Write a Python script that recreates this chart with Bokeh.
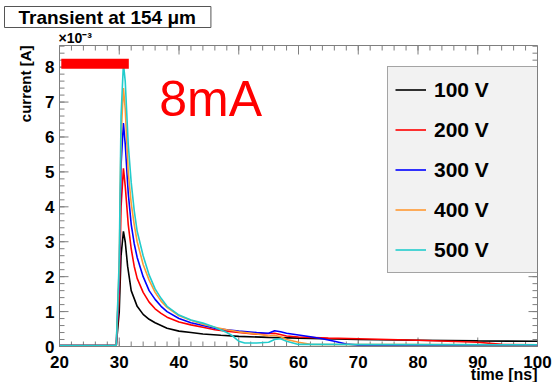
from bokeh.plotting import figure
from bokeh.models import Label, Legend, LegendItem, FixedTicker, Range1d, Title
from bokeh.embed import file_html
from bokeh.resources import INLINE

# ---- data (current in units of 1e-3 A, time in ns) ----
labels = ["100 V", "200 V", "300 V", "400 V", "500 V"]
colors = ["#000000", "#ff0000", "#0000ff", "#ff9933", "#22cccc"]

t_100 = [20, 29.5, 30.0, 30.3, 30.7, 31.0, 31.4, 32, 33, 34, 35, 36, 38, 40, 42, 44, 47, 50, 55, 60, 70, 80, 90, 100]
i_100 = [0.03, 0.03, 1.0, 2.6, 3.3, 3.0, 2.3, 1.6, 1.15, 0.92, 0.78, 0.68, 0.52, 0.44, 0.40, 0.36, 0.32, 0.29, 0.26, 0.24, 0.20, 0.18, 0.16, 0.15]

t_200 = [20, 29.5, 30.0, 30.3, 30.7, 31.0, 31.5, 32, 32.5, 33, 34, 35, 36, 37, 38, 40, 42, 44, 46, 48, 50, 53, 56, 58, 60, 65, 70, 80, 90, 94, 100]
i_200 = [0.03, 0.03, 1.5, 4.0, 5.1, 4.6, 3.5, 2.8, 2.3, 1.95, 1.55, 1.27, 1.08, 0.95, 0.84, 0.70, 0.62, 0.55, 0.48, 0.44, 0.40, 0.35, 0.38, 0.30, 0.27, 0.24, 0.22, 0.18, 0.12, 0.06, 0.05]

t_300 = [20, 29.5, 30.0, 30.3, 30.7, 31.0, 31.5, 32, 32.5, 33, 34, 35, 36, 37, 38, 40, 42, 44, 46, 48, 50, 53, 55, 56, 57, 58, 60, 62, 64, 66, 68, 70, 100]
i_300 = [0.03, 0.03, 2.0, 5.2, 6.4, 5.8, 4.4, 3.5, 2.95, 2.55, 2.0, 1.6, 1.35, 1.15, 1.0, 0.80, 0.68, 0.60, 0.52, 0.48, 0.44, 0.40, 0.38, 0.45, 0.42, 0.38, 0.33, 0.28, 0.22, 0.15, 0.07, 0.04, 0.04]

t_400 = [20, 29.5, 30.0, 30.3, 30.7, 31.0, 31.5, 32, 32.5, 33, 34, 35, 36, 37, 38, 40, 42, 44, 46, 48, 50, 53, 55, 56, 57, 58, 60, 62, 100]
i_400 = [0.03, 0.03, 2.3, 6.0, 7.4, 6.8, 5.0, 4.1, 3.5, 3.0, 2.35, 1.9, 1.55, 1.3, 1.12, 0.88, 0.75, 0.64, 0.55, 0.48, 0.42, 0.36, 0.30, 0.32, 0.28, 0.20, 0.12, 0.06, 0.05]

t_500 = [20, 29.5, 30.0, 30.3, 30.7, 31.0, 31.5, 32, 32.5, 33, 34, 35, 36, 37, 38, 40, 42, 44, 46, 48, 49, 50, 51, 53, 55, 56, 57, 58, 60, 100]
i_500 = [0.03, 0.03, 2.5, 6.6, 8.1, 7.6, 5.8, 4.7, 3.9, 3.3, 2.6, 2.05, 1.65, 1.38, 1.15, 0.90, 0.76, 0.67, 0.55, 0.40, 0.30, 0.15, 0.10, 0.10, 0.12, 0.20, 0.22, 0.15, 0.06, 0.05]

series_t = [t_100, t_200, t_300, t_400, t_500]
series_i = [i_100, i_200, i_300, i_400, i_500]

bar_t = [20.3, 31.6]
bar_i = [8.1, 8.1]

x_ticks = [20, 30, 40, 50, 60, 70, 80, 90, 100]
x_minor = [20 + 2 * k for k in range(41)]
y_ticks = [0, 1, 2, 3, 4, 5, 6, 7, 8]
y_minor = [round(0.2 * k, 1) for k in range(44)]

X0, X1 = 20, 100
Y0, Y1 = 0, 8.62

FONT = "Liberation Sans"
AX = "#7f7f7f"

p = figure(width=553, height=382, output_backend="svg", toolbar_location=None,
           x_range=Range1d(X0, X1), y_range=Range1d(Y0, Y1),
           min_border_left=59, min_border_right=16, min_border_top=45, min_border_bottom=36)
p.grid.visible = False
p.outline_line_color = AX
p.background_fill_color = "white"
p.border_fill_color = "white"

for ax in (p.xaxis[0], p.yaxis[0]):
    ax.axis_line_color = AX
    ax.major_tick_line_color = None
    ax.minor_tick_line_color = None
    ax.major_tick_in = 0
    ax.major_tick_out = 0
    ax.minor_tick_in = 0
    ax.minor_tick_out = 0
    ax.major_label_text_font = FONT
    ax.major_label_text_font_style = "bold"
    ax.major_label_text_font_size = "17px"
    ax.major_label_text_color = "black"
p.xaxis.ticker = FixedTicker(ticks=x_ticks)
p.yaxis.ticker = FixedTicker(ticks=y_ticks)
p.xaxis.major_label_standoff = 9
p.yaxis.major_label_standoff = 5

# inner ticks on all four sides (pixel lengths converted to data units)
px_x = (X1 - X0) / 478.0
px_y = (Y1 - Y0) / 301.0
for ticks, ln in ((x_ticks, 9), (x_minor, 5)):
    p.segment(x0=ticks, y0=[Y0] * len(ticks), x1=ticks, y1=[Y0 + ln * px_y] * len(ticks),
              line_color=AX, line_width=1)
    p.segment(x0=ticks, y0=[Y1] * len(ticks), x1=ticks, y1=[Y1 - ln * px_y] * len(ticks),
              line_color=AX, line_width=1)
for ticks, ln in ((y_ticks, 9), (y_minor, 5)):
    p.segment(x0=[X0] * len(ticks), y0=ticks, x1=[X0 + ln * px_x] * len(ticks), y1=ticks,
              line_color=AX, line_width=1)
    p.segment(x0=[X1] * len(ticks), y0=ticks, x1=[X1 - ln * px_x] * len(ticks), y1=ticks,
              line_color=AX, line_width=1)

renderers = []
for t, v, c in zip(series_t, series_i, colors):
    r = p.line(t, v, line_color=c, line_width=1.6)
    renderers.append(r)

p.line(bar_t, bar_i, line_color="#ff0000", line_width=10)

legend = Legend(items=[LegendItem(label=l, renderers=[r]) for l, r in zip(labels, renderers)],
                location=(328, 73))
legend.background_fill_color = "#f2f2f2"
legend.background_fill_alpha = 1
legend.border_line_color = "#555555"
legend.border_line_width = 1
legend.padding = 7
legend.margin = 0
legend.spacing = 9
legend.glyph_height = 31
legend.label_height = 31
legend.glyph_width = 31
legend.label_standoff = 8
legend.label_width = 97
legend.label_text_font = FONT
legend.label_text_font_style = "bold"
legend.label_text_font_size = "21px"
legend.label_text_color = "black"
p.add_layout(legend)

# titles in the side panels (not clipped by the frame)
p.add_layout(Title(text="\u00d710\u207b\u00b3", align="left", offset=-1, standoff=0,
                   text_color="black",
                   text_font=FONT, text_font_style="bold", text_font_size="14px"), "above")
p.add_layout(Title(text="Transient at 154 \u03bcm", align="left", offset=-55, standoff=0,
                   text_color="black", padding=dict(left=14, right=15, top=0, bottom=0),
                   text_font=FONT, text_font_style="bold", text_font_size="19px",
                   background_fill_color="white", border_line_color="#555555"), "above")
p.add_layout(Title(text="current [A]", align="right", standoff=18,
                   text_color="black",
                   text_font=FONT, text_font_style="bold", text_font_size="15px"), "left")
p.add_layout(Title(text="time [ns]", align="right", standoff=-13,
                   text_color="black",
                   text_font=FONT, text_font_style="bold", text_font_size="16px"), "below")

# 8mA annotation
p.add_layout(Label(x=36.7, y=7.1, text="8mA", text_color="#ff0000",
                   text_font=FONT, text_font_size="50px",
                   text_baseline="alphabetic", text_align="left"))

open("out.html", "w").write(file_html(p, INLINE))
